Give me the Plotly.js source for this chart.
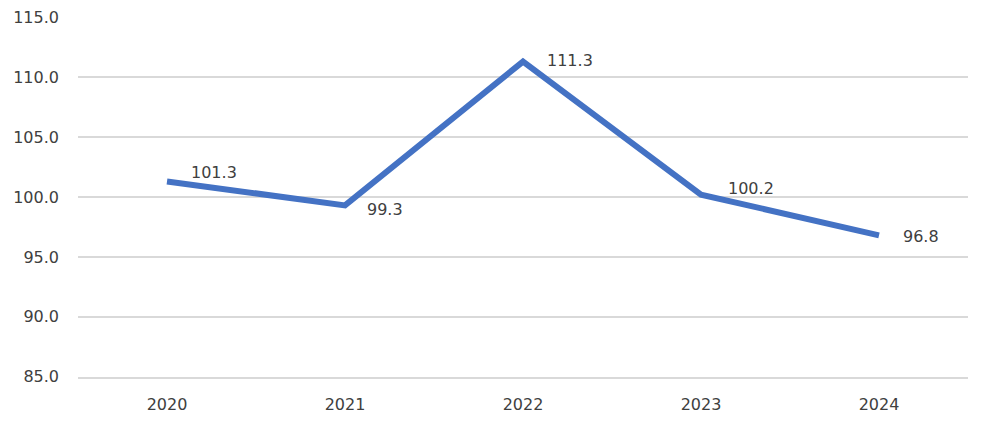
<!DOCTYPE html>
<html>
<head>
<meta charset="utf-8">
<script src="https://cdn.plot.ly/plotly-3.0.1.min.js"></script>
<style>
  html, body { margin: 0; padding: 0; background: #fff; }
  #chart { width: 990px; height: 422px; }
</style>
</head>
<body>
<div id="chart"></div>
<script>
const years = ["2020", "2021", "2022", "2023", "2024"];
const values = [101.3, 99.3, 111.3, 100.2, 96.8];

// label offsets per point (px), roughly as in the picture
const labelShiftX = [22, 20, 22, 25, 22];
const labelShiftY = [9, -4, 1, 6, -1];

const textColor = "#404040";
const fontFamily = "DejaVu Sans, sans-serif";
const mkFont = () => ({ family: fontFamily, size: 16, color: textColor });

const annotations = values.map((v, i) => ({
  xref: "x",
  yref: "y",
  x: i,
  y: v,
  text: v.toFixed(1),
  showarrow: false,
  xanchor: "left",
  yanchor: "middle",
  xshift: labelShiftX[i],
  yshift: labelShiftY[i],
  font: mkFont(),
}));

Plotly.newPlot(
  "chart",
  [
    {
      x: years,
      y: values,
      type: "scatter",
      mode: "lines",
      line: { color: "#4472C4", width: 6 },
      hoverinfo: "skip",
    },
  ],
  {
    width: 990,
    height: 422,
    margin: { l: 78, r: 22, t: 17, b: 45 },
    paper_bgcolor: "#fff",
    plot_bgcolor: "#fff",
    showlegend: false,
    font: mkFont(),
    annotations: annotations,
    xaxis: {
      type: "category",
      range: [-0.5, 4.5],
      showgrid: false,
      zeroline: false,
      showline: true,
      linecolor: "#d9d9d9",
      linewidth: 2,
      ticks: "",
      ticklabelstandoff: 12,
      tickfont: mkFont(),
    },
    yaxis: {
      range: [84.98, 115.02],
      dtick: 5,
      tick0: 85,
      tickformat: ".1f",
      showgrid: true,
      gridcolor: "#d9d9d9",
      gridwidth: 2,
      zeroline: false,
      showline: false,
      ticks: "",
      ticklabelstandoff: 18,
      tickfont: mkFont(),
    },
  },
  { displayModeBar: false }
);
</script>
</body>
</html>
